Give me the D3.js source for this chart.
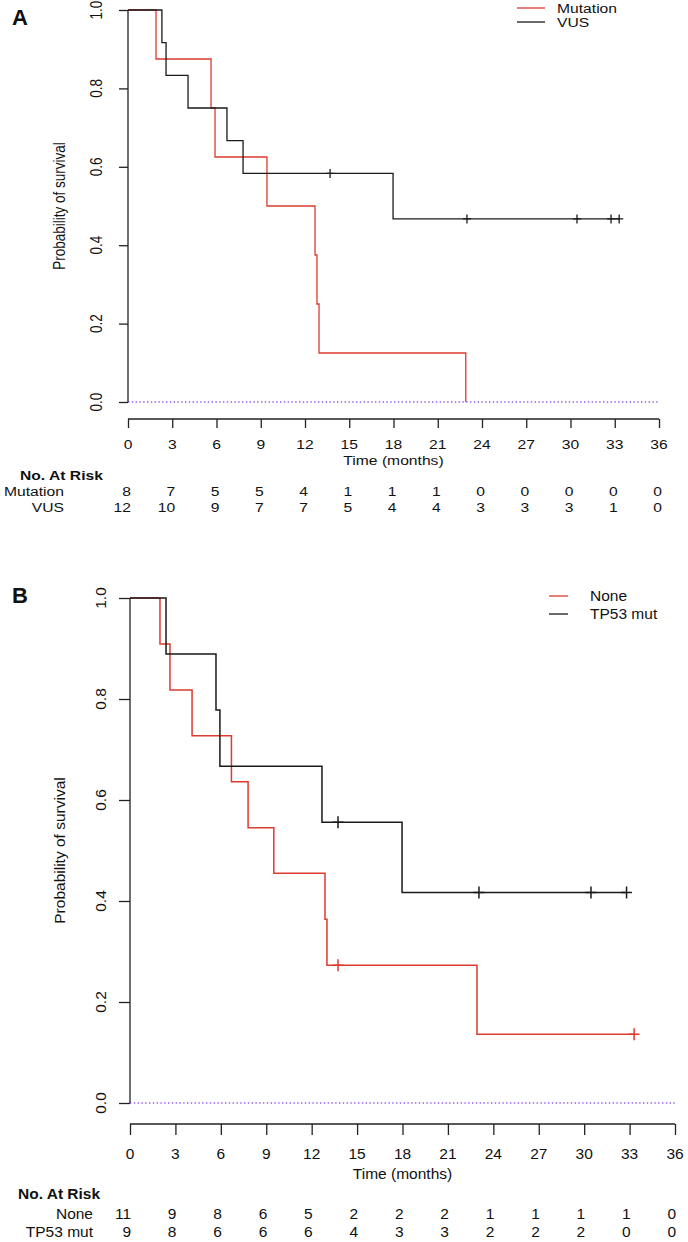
<!DOCTYPE html>
<html>
<head>
<meta charset="utf-8">
<script src="https://cdn.jsdelivr.net/npm/d3@7"></script>
<style>
  body { margin: 0; background: #fff; }
  text { font-family: "Liberation Sans", Arial, Helvetica, sans-serif; fill: #111; }
</style>
</head>
<body>
<script>
// Time ticks (months) shared by both panels
var timeTicks = [0, 3, 6, 9, 12, 15, 18, 21, 24, 27, 30, 33, 36];
var survTicks = [0, 0.2, 0.4, 0.6, 0.8, 1.0];

// Panel A - Mutation (red)
var mutTimes = [0, 1.9, 5.63, 5.9, 9.42, 12.68, 12.81, 12.95, 22.9];
var mutSurv = [1, 0.875, 0.75, 0.625, 0.5, 0.375, 0.25, 0.125, 0];
var mutCensor = [];
var mutRisk = [8, 7, 5, 5, 4, 1, 1, 1, 0, 0, 0, 0, 0];

// Panel A - VUS (black)
var vusTimes = [0, 2.3, 2.58, 4.07, 6.71, 7.8, 17.97, 33.3];
var vusSurv = [1, 0.917, 0.833, 0.75, 0.667, 0.583, 0.467, 0.467];
var vusCensor = [13.7, 22.98, 30.44, 32.75, 33.3];
var vusRisk = [12, 10, 9, 7, 7, 5, 4, 4, 3, 3, 3, 1, 0];

// Panel B - None (red)
var noneTimes = [0, 1.98, 2.64, 4.1, 6.7, 7.8, 9.5, 12.88, 13.01, 22.92, 33.3];
var noneSurv = [1, 0.909, 0.818, 0.727, 0.636, 0.545, 0.455, 0.364, 0.273, 0.136, 0.136];
var noneCensor = [13.74, 33.3];
var noneRisk = [11, 9, 8, 6, 5, 2, 2, 2, 1, 1, 1, 1, 0];

// Panel B - TP53 mut (black)
var tp53Times = [0, 2.38, 5.68, 5.94, 12.68, 17.97, 32.8];
var tp53Surv = [1, 0.889, 0.778, 0.667, 0.556, 0.417, 0.417];
var tp53Censor = [13.74, 23.05, 30.45, 32.8];
var tp53Risk = [9, 8, 6, 6, 6, 4, 3, 3, 2, 2, 2, 0, 0];

var RED = "#dc3b2e";
var BLACK = "#1a1a1a";

var svg = d3.select("body")
  .append("svg")
  .attr("width", 688)
  .attr("height", 1242);

// Draws one text, optionally stretched horizontally and rotated
function label(g, str, x, y, p, opts) {
  opts = opts || {};
  var fs = opts.fs || p.fs;
  var rot = opts.rotate ? " rotate(-90)" : "";
  return g.append("text")
    .attr("transform", "translate(" + x + "," + y + ") scale(" + (opts.sx || p.sx) + ",1)" + rot)
    .attr("dy", (0.35 * fs) + "px")
    .attr("text-anchor", opts.anchor || "middle")
    .style("font-size", fs + "px")
    .style("font-weight", opts.bold ? "bold" : "normal")
    .text(str);
}

function drawPanel(p) {
  var g = svg.append("g");

  var x = d3.scaleLinear().domain([0, 36]).range([p.x0, p.x1]);
  var y = d3.scaleLinear().domain([0, 1]).range([p.yBottom, p.yTop]);

  // Dotted reference line at 0
  g.append("line")
    .attr("x1", x(0)).attr("x2", x(36))
    .attr("y1", y(0)).attr("y2", y(0))
    .attr("stroke", "#9a5cf0")
    .attr("stroke-width", 1.3)
    .attr("stroke-dasharray", "1.4,2.4");

  // y axis
  var yAxis = d3.axisLeft(y).tickValues(survTicks).tickSize(p.tickLen).tickFormat("");
  var ya = g.append("g").attr("transform", "translate(" + p.x0 + ",0)").call(yAxis);
  ya.select(".domain").attr("d", "M0," + y(0) + "V" + y(1));
  ya.selectAll("path, line").attr("stroke", "#222").attr("stroke-width", 1.3);
  survTicks.forEach(function (v) {
    label(g, d3.format(".1f")(v), p.yTickX, y(v), p, { rotate: true });
  });
  label(g, "Probability of survival", p.yLabelX, (y(0) + y(1)) / 2, p, { rotate: true });

  // x axis
  var xAxis = d3.axisBottom(x).tickValues(timeTicks).tickSize(p.tickLen).tickFormat("");
  var xa = g.append("g").attr("transform", "translate(0," + p.axisY + ")").call(xAxis);
  xa.select(".domain").attr("d", "M" + x(0) + ",0H" + x(36));
  xa.selectAll("path, line").attr("stroke", "#222").attr("stroke-width", 1.3);
  timeTicks.forEach(function (t) {
    label(g, t, x(t), p.tickLabelY, p);
  });
  label(g, "Time (months)", (x(0) + x(36)) / 2, p.timeY, p);

  // Survival curves
  var line = d3.line()
    .x(function (d) { return x(d[0]); })
    .y(function (d) { return y(d[1]); })
    .curve(d3.curveStepAfter);

  p.series.forEach(function (s) {
    var pts = d3.zip(s.times, s.surv);
    g.append("path")
      .datum(pts)
      .attr("d", line)
      .attr("fill", "none")
      .attr("stroke", s.color)
      .attr("stroke-width", p.lw);

    // Censor marks: step value at censor time
    s.censor.forEach(function (c) {
      var i = d3.bisectRight(s.times, c) - 1;
      var cx = x(c), cy = y(s.surv[i]);
      var h = p.censorH / 2;
      g.append("path")
        .attr("d", "M" + cx + "," + (cy - h) + "V" + (cy + h) + "M" + (cx - h * 0.9) + "," + cy + "H" + (cx + h * 0.9))
        .attr("stroke", s.color)
        .attr("stroke-width", p.lw);
    });
  });

  // Legend
  p.series.forEach(function (s, i) {
    var ly = p.legendY[i];
    g.append("line")
      .attr("x1", p.legendX0).attr("x2", p.legendX1)
      .attr("y1", ly).attr("y2", ly)
      .attr("stroke", s.color)
      .attr("stroke-width", 1.3);
    label(g, s.name, p.legendTextX, ly, p, { anchor: "start" });
  });

  // Number at risk table
  label(g, "No. At Risk", p.narX, p.narY, p, { anchor: "start", bold: true });
  p.series.forEach(function (s, i) {
    var ry = p.rowY[i];
    label(g, s.name, p.rowLabelX, ry, p, { anchor: "end" });
    s.risk.forEach(function (n, j) {
      label(g, n, x(timeTicks[j]) + p.numOffset, ry, p, { anchor: "end" });
    });
  });

  // Panel letter
  g.append("text")
    .attr("x", 12).attr("y", p.letterY)
    .style("font-size", "22px")
    .style("font-weight", "bold")
    .text(p.letter);
}

drawPanel({
  letter: "A", letterY: 25,
  x0: 128, x1: 659, yTop: 10, yBottom: 402, axisY: 419,
  fs: 13.5, sx: 1.16, tickLen: 9, lw: 1.3, censorH: 9,
  yTickX: 97, yLabelX: 60,
  tickLabelY: 444, timeY: 460, narX: 20, narY: 475, rowY: [491, 507],
  rowLabelX: 64, numOffset: 3,
  legendX0: 517, legendX1: 545, legendTextX: 557, legendY: [8, 22],
  series: [
    { name: "Mutation", color: RED, times: mutTimes, surv: mutSurv, censor: mutCensor, risk: mutRisk },
    { name: "VUS", color: BLACK, times: vusTimes, surv: vusSurv, censor: vusCensor, risk: vusRisk }
  ]
});

drawPanel({
  letter: "B", letterY: 603,
  x0: 130, x1: 675, yTop: 598, yBottom: 1103, axisY: 1124,
  fs: 15.5, sx: 1.0, tickLen: 11, lw: 1.5, censorH: 12,
  yTickX: 101, yLabelX: 60,
  tickLabelY: 1154, timeY: 1174, narX: 18, narY: 1194, rowY: [1214, 1232],
  rowLabelX: 93, numOffset: 1,
  legendX0: 549, legendX1: 568, legendTextX: 590, legendY: [596, 614],
  series: [
    { name: "None", color: RED, times: noneTimes, surv: noneSurv, censor: noneCensor, risk: noneRisk },
    { name: "TP53 mut", color: BLACK, times: tp53Times, surv: tp53Surv, censor: tp53Censor, risk: tp53Risk }
  ]
});
</script>
</body>
</html>
